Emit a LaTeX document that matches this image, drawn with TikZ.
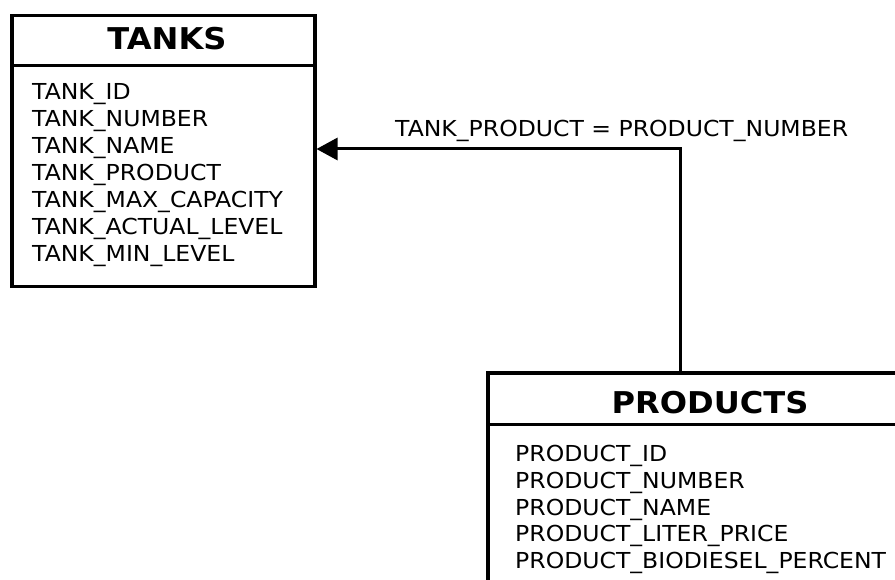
\documentclass[tikz,border=0pt]{standalone}
\usepackage{fontspec}
\setmainfont{DejaVu Sans}[FakeStretch=1.07]
\usetikzlibrary{arrows.meta}
\begin{document}
\begin{tikzpicture}[x=1pt,y=-1pt,
  box/.style={draw, line width=3.5pt, rectangle, inner sep=0pt, anchor=north west},
  divider/.style={line width=3pt},
  field/.style={anchor=base west, inner sep=0pt, font=\fontsize{22}{26}\selectfont},
  head/.style={anchor=base, inner sep=0pt, font=\fontsize{30}{34}\selectfont\bfseries},
  conn/.style={line width=3pt, -{Triangle[length=21pt,width=22pt]}},
  lbl/.style={anchor=base west, inner sep=0pt, font=\fontsize{22}{26}\selectfont}]
\clip (0,0) rectangle (895,580);
\fill[white] (0,0) rectangle (895,580);
% TANKS table
\node[box, minimum width=303pt, minimum height=271pt] (tanks) at (10,14) {};
\draw[divider] ([yshift=-52pt]tanks.north west) -- ([yshift=-52pt]tanks.north east);
\node[head] (tanksh) at (167,50) {TANKS};
\node[field] (t1) at (32,100) {TANK\_ID};
\node[field] (t2) at (32,127) {TANK\_NUMBER};
\node[field] (t3) at (32,154) {TANK\_NAME};
\node[field] (t4) at (32,181) {TANK\_PRODUCT};
\node[field] (t5) at (32,208) {TANK\_MAX\_CAPACITY};
\node[field] (t6) at (32,235) {TANK\_ACTUAL\_LEVEL};
\node[field] (t7) at (32,262) {TANK\_MIN\_LEVEL};
% PRODUCTS table
\node[box, minimum width=430pt, minimum height=230pt] (products) at (486,371) {};
\draw[divider] ([yshift=-53pt]products.north west) -- ([yshift=-53pt]products.north east);
\node[head] (productsh) at (710,413) {PRODUCTS};
\node[field] (p1) at (515,461) {PRODUCT\_ID};
\node[field] (p2) at (515,488) {PRODUCT\_NUMBER};
\node[field] (p3) at (515,515) {PRODUCT\_NAME};
\node[field] (p4) at (515,541) {PRODUCT\_LITER\_PRICE};
\node[field] (p5) at (515,568) {PRODUCT\_BIODIESEL\_PERCENT};
% relation
\coordinate (bend) at (680,149);
\draw[conn] (products.north -| bend) -- (bend) -- (tanks.east |- bend);
\node[lbl] (rel) at (395,137) {TANK\_PRODUCT = PRODUCT\_NUMBER};
\end{tikzpicture}
\end{document}
